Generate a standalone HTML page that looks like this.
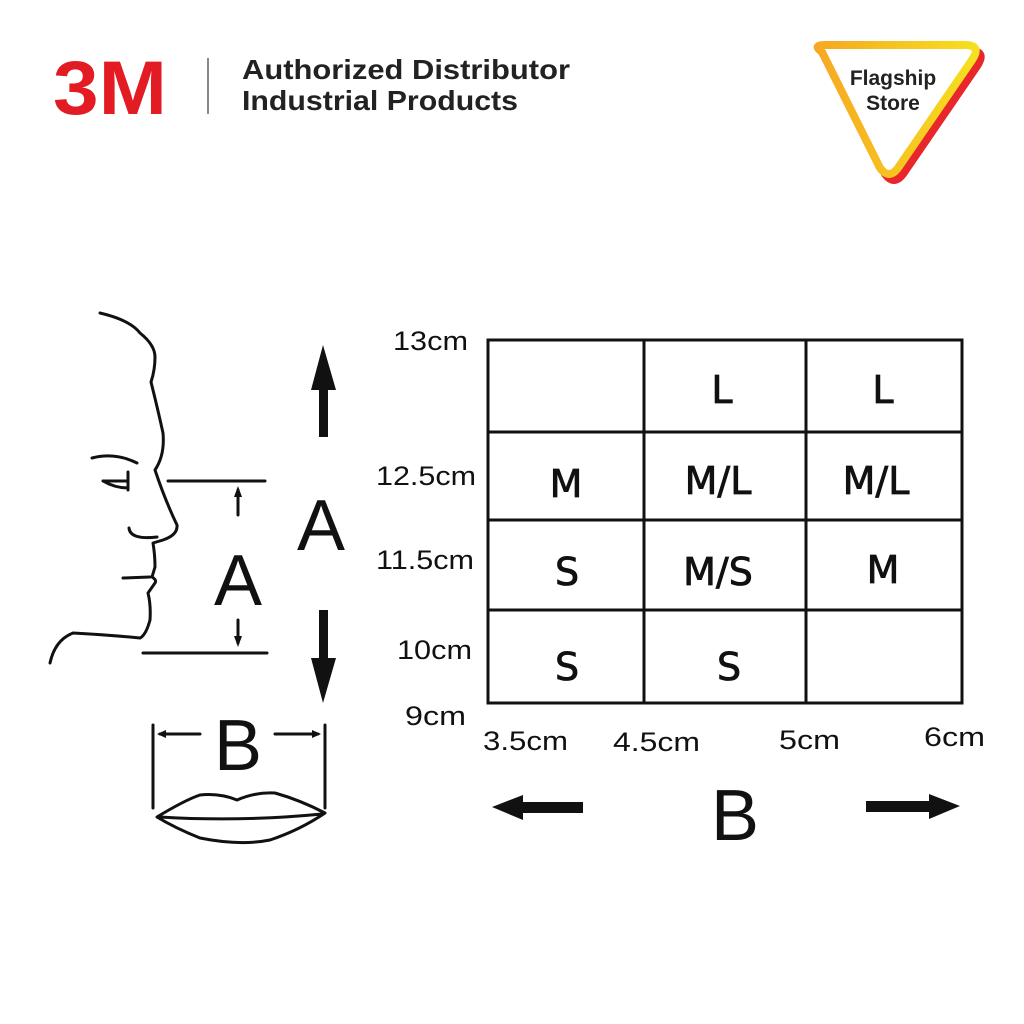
<!DOCTYPE html>
<html><head><meta charset="utf-8"><style>
html,body{margin:0;padding:0;background:#fff;}
svg{display:block}
</style></head><body>
<svg width="1024" height="1024" viewBox="0 0 1024 1024" xmlns="http://www.w3.org/2000/svg">
<defs>
<linearGradient id="g" x1="0" y1="0" x2="1" y2="0"><stop offset="0" stop-color="#f7a823"/><stop offset="1" stop-color="#f5e01e"/></linearGradient>
</defs>
<rect width="1024" height="1024" fill="#fff"/>
<!-- header -->
<text x="53" y="114" font-family="Liberation Sans, sans-serif" font-weight="bold" font-size="76" fill="#e31b23" textLength="114" lengthAdjust="spacingAndGlyphs">3M</text>
<line x1="208" y1="58" x2="208" y2="114" stroke="#888" stroke-width="2"/>
<text x="242" y="79" font-family="Liberation Sans, sans-serif" font-weight="bold" font-size="28" fill="#222" textLength="328" lengthAdjust="spacingAndGlyphs">Authorized Distributor</text>
<text x="242" y="110" font-family="Liberation Sans, sans-serif" font-weight="bold" font-size="28" fill="#222" textLength="276" lengthAdjust="spacingAndGlyphs">Industrial Products</text>
<!-- flagship -->
<path d="M822 52 Q812 45 825 45 L965 45 Q982 45 972 60 L898 168 Q889 180 880 168 Z" fill="none" stroke="#e8262b" stroke-width="8" stroke-linejoin="round" transform="translate(5,6)"/>
<path d="M822 52 Q812 45 825 45 L965 45 Q982 45 972 60 L898 168 Q889 180 880 168 Z" fill="#fff" stroke="url(#g)" stroke-width="8" stroke-linejoin="round"/>
<text x="893" y="85" text-anchor="middle" font-family="Liberation Sans, sans-serif" font-weight="bold" font-size="21" fill="#222">Flagship</text>
<text x="893" y="110" text-anchor="middle" font-family="Liberation Sans, sans-serif" font-weight="bold" font-size="21" fill="#222">Store</text>
<!-- face -->
<g fill="none" stroke="#111" stroke-width="3" stroke-linecap="round" stroke-linejoin="round">
<path d="M100 313 Q130 320 140 333 Q155 345 155 357 Q155 370 151 382 Q158 410 163 433 Q165 455 155 470 Q165 500 177 525 Q178 535 163 540 L153 543 Q155 555 155 567 L152 577 Q157 580 155 583 L148 593 Q151 605 150 620 Q146 635 140 638 Q110 635 73 633 Q55 640 50 663"/>
<path d="M92 458 Q115 452 137 463"/>
<path d="M103 481 L128 481 M128 472 L128 490 M103 481 Q115 488 128 488"/>
<path d="M129 528 Q130 540 157 537"/>
<path d="M123 578 L150 577"/>
<path d="M168 481 L265 481 M143 653 L267 653"/>
<path d="M238 515 L238 490 M238 620 L238 643"/>
<path d="M153 725 L153 808 M325 725 L325 808"/>
<path d="M160 734 L200 734 M275 734 L318 734"/>
<path d="M157 817 Q185 800 200 795 Q220 793 237 800 Q255 792 275 793 Q300 800 325 813 Q300 830 270 840 Q240 846 200 838 Q175 828 157 817 Z M160 817 Q240 822 322 814"/>
</g>
<g fill="#111">
<path d="M238 486 L234 497 L242 497 Z M238 647 L234 636 L242 636 Z"/>
<path d="M157 734 L166 730 L166 738 Z M321 734 L312 730 L312 738 Z"/>
<path d="M323 345 L311 390 L319 390 L319 437 L328 437 L328 390 L336 390 Z"/>
<path d="M323 703 L311 658 L319 658 L319 610 L328 610 L328 658 L336 658 Z"/>
<path d="M492 807 L523 795 L523 802 L583 802 L583 813 L523 813 L523 820 Z"/>
<path d="M960 806 L929 794 L929 801 L866 801 L866 812 L929 812 L929 819 Z"/>
</g>
<g font-family="Liberation Sans, sans-serif" fill="#111">
<text x="321" y="550" text-anchor="middle" font-size="72">A</text>
<text x="238" y="605" text-anchor="middle" font-size="72">A</text>
<text x="238" y="770" text-anchor="middle" font-size="72">B</text>
<text x="735" y="840" text-anchor="middle" font-size="72">B</text>
</g>
<!-- table -->
<g fill="none" stroke="#111" stroke-width="3">
<rect x="488" y="340" width="474" height="363"/>
<path d="M644 340 L644 703 M806 340 L806 703 M488 432 L962 432 M488 520 L962 520 M488 610 L962 610"/>
</g>
<g font-family="DejaVu Sans, sans-serif" font-size="38" fill="#111" text-anchor="middle" stroke="#111" stroke-width="0.8">
<text x="722" y="403">L</text><text x="883" y="403">L</text>
<text x="566" y="497">M</text><text x="718" y="494">M/L</text><text x="876" y="494">M/L</text>
<text x="567" y="585">S</text><text x="718" y="585">M/S</text><text x="883" y="583">M</text>
<text x="567" y="680">S</text><text x="729" y="680">S</text>
</g>
<g font-family="Liberation Sans, sans-serif" font-size="27" fill="#111" lengthAdjust="spacingAndGlyphs">
<text x="393" y="350" textLength="75" lengthAdjust="spacingAndGlyphs">13cm</text>
<text x="376" y="485" textLength="100" lengthAdjust="spacingAndGlyphs">12.5cm</text>
<text x="376" y="569" textLength="98" lengthAdjust="spacingAndGlyphs">11.5cm</text>
<text x="397" y="659" textLength="75" lengthAdjust="spacingAndGlyphs">10cm</text>
<text x="405" y="725" textLength="61" lengthAdjust="spacingAndGlyphs">9cm</text>
<text x="483" y="750" textLength="85" lengthAdjust="spacingAndGlyphs">3.5cm</text>
<text x="613" y="751" textLength="87" lengthAdjust="spacingAndGlyphs">4.5cm</text>
<text x="779" y="749" textLength="61" lengthAdjust="spacingAndGlyphs">5cm</text>
<text x="924" y="746" textLength="61" lengthAdjust="spacingAndGlyphs">6cm</text>
</g>
</svg>
</body></html>
